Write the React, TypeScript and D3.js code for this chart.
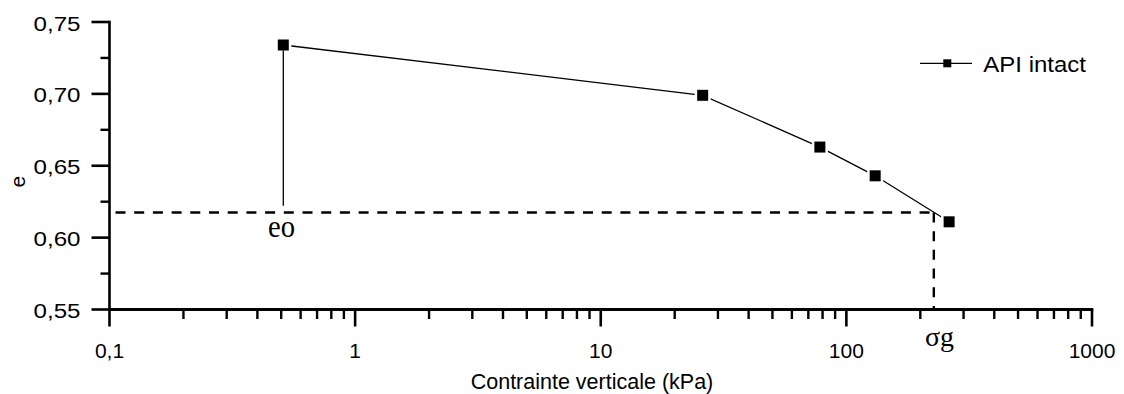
import React from "react";
import * as d3 from "d3";

const sigmaValues = [0.51, 26, 78, 131, 262];
const eValues = [0.734, 0.699, 0.663, 0.643, 0.611];
const seriesName = "API intact";
const xMajorTicks = [0.1, 1, 10, 100, 1000];
const xTickLabels = ["0,1", "1", "10", "100", "1000"];
const yMajorTicks = [0.55, 0.6, 0.65, 0.7, 0.75];
const yTickLabels = ["0,55", "0,60", "0,65", "0,70", "0,75"];
const yMinorTicks = [0.575, 0.625, 0.675, 0.725];
const e0Value = 0.6175;
const e0LineTop = 0.6222;
const sigmaG = 227;
const xTitle = "Contrainte verticale (kPa)";
const yTitle = "e";

const W = 1124;
const H = 394;
const SANS = "'Liberation Sans', Arial, Helvetica, sans-serif";
const SERIF = "'Liberation Serif', 'Times New Roman', Times, serif";

export default function App() {
  const x = d3.scaleLog().domain([0.1, 1000]).range([109.5, 1092]);
  const y = d3.scaleLinear().domain([0.55, 0.75]).range([309.5, 22]);
  const y0 = y(0.55);
  const xLeft = x(0.1);

  const xMinor: number[] = [];
  [0.1, 1, 10, 100].forEach((d) => {
    for (let k = 2; k <= 9; k++) xMinor.push(d * k);
  });

  const pts = sigmaValues.map((s, i) => [x(s), y(eValues[i])] as [number, number]);
  const line = d3.line()(pts) || "";

  const ms = 11;
  const halo = 16;

  return (
    <svg
      width={W}
      height={H}
      style={{ position: "absolute", left: 0, top: 0, background: "#fff" }}
    >
      <rect x={0} y={0} width={W} height={H} fill="#fff" />

      {/* reference dashed lines */}
      <line
        x1={xLeft + 6}
        x2={x(sigmaG)}
        y1={y(e0Value)}
        y2={y(e0Value)}
        stroke="#000"
        strokeWidth={2.4}
        strokeDasharray="10,8.7"
      />
      <line
        x1={x(sigmaG)}
        x2={x(sigmaG)}
        y1={y(e0Value)}
        y2={y0}
        stroke="#000"
        strokeWidth={2.4}
        strokeDasharray="10,8.7"
      />

      {/* series line */}
      <path d={line} fill="none" stroke="#000" strokeWidth={1.3} />
      {pts.map(([px, py], i) => (
        <g key={i}>
          <rect x={px - halo / 2} y={py - halo / 2} width={halo} height={halo} fill="#fff" />
          <rect x={px - ms / 2} y={py - ms / 2} width={ms} height={ms} fill="#000" />
        </g>
      ))}
      {/* e0 vertical solid line from first point */}
      <line
        x1={x(sigmaValues[0])}
        x2={x(sigmaValues[0])}
        y1={y(eValues[0]) + ms / 2}
        y2={y(e0LineTop)}
        stroke="#000"
        strokeWidth={1.3}
      />

      {/* axes */}
      <line x1={xLeft} x2={xLeft} y1={y(0.75) - 1.2} y2={y0 + 1.5} stroke="#000" strokeWidth={2.6} />
      <line x1={xLeft - 1} x2={x(1000) + 1.3} y1={y0} y2={y0} stroke="#000" strokeWidth={2.8} />

      {xMajorTicks.map((t, i) => (
        <g key={"xm" + i}>
          <line x1={x(t)} x2={x(t)} y1={y0} y2={y0 + 17} stroke="#000" strokeWidth={2.6} />
          <text
            x={x(t)}
            y={358}
            textAnchor="middle"
            fontFamily={SANS}
            fontSize={21}
            fill="#000"
          >
            {xTickLabels[i]}
          </text>
        </g>
      ))}
      {xMinor.map((t, i) => (
        <line key={"xn" + i} x1={x(t)} x2={x(t)} y1={y0} y2={y0 + 9.5} stroke="#000" strokeWidth={2.4} />
      ))}

      {yMajorTicks.map((t, i) => (
        <g key={"ym" + i}>
          <line x1={xLeft - 18} x2={xLeft} y1={y(t)} y2={y(t)} stroke="#000" strokeWidth={2.6} />
          <text
            x={80.5}
            y={y(t) + 8.5}
            textAnchor="end"
            fontFamily={SANS}
            fontSize={20.5}
            textLength={47}
            lengthAdjust="spacingAndGlyphs"
            fill="#000"
          >
            {yTickLabels[i]}
          </text>
        </g>
      ))}
      {yMinorTicks.map((t, i) => (
        <line key={"yn" + i} x1={xLeft - 9} x2={xLeft} y1={y(t)} y2={y(t)} stroke="#000" strokeWidth={2.4} />
      ))}

      {/* axis titles */}
      <text x={592} y={388.5} textAnchor="middle" fontFamily={SANS} fontSize={21.5} fill="#000">
        {xTitle}
      </text>
      <text
        transform="translate(25,181.7) rotate(-90)"
        textAnchor="middle"
        fontFamily={SANS}
        fontSize={21}
        fill="#000"
      >
        {yTitle}
      </text>

      {/* annotations */}
      <text
        x={268}
        y={236.7}
        fontFamily={SERIF}
        fontSize={31}
        textLength={27}
        lengthAdjust="spacingAndGlyphs"
        fill="#000"
      >
        eo
      </text>
      <text
        x={925}
        y={346}
        fontFamily={SERIF}
        fontSize={28}
        textLength={29}
        lengthAdjust="spacingAndGlyphs"
        fill="#000"
      >
        σg
      </text>

      {/* legend */}
      <line x1={920} x2={972} y1={63.3} y2={63.3} stroke="#000" strokeWidth={1.3} />
      <rect x={947.3 - 4} y={63.3 - 4} width={8} height={8} fill="#000" />
      <text
        x={983.3}
        y={71.7}
        fontFamily={SANS}
        fontSize={22.5}
        textLength={102.7}
        lengthAdjust="spacingAndGlyphs"
        fill="#000"
      >
        {seriesName}
      </text>
    </svg>
  );
}
